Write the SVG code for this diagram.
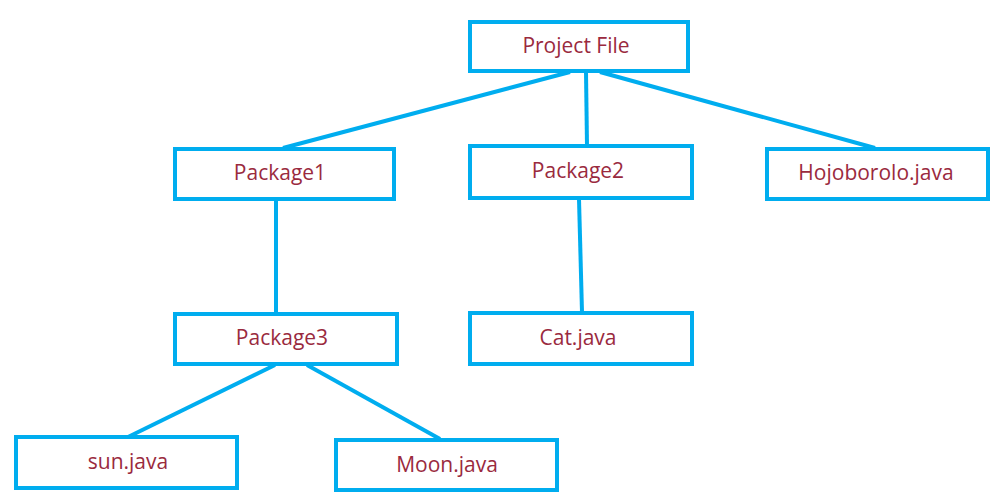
<svg xmlns="http://www.w3.org/2000/svg" width="1005" height="503" viewBox="0 0 1005 503">
<style>
.box{fill:#ffffff;stroke:#00adef;stroke-width:4}
.lbl{font-family:"Open Sans","Noto Sans",sans-serif;font-size:21px;fill:#9a2a3e;text-anchor:middle}
.con{stroke:#00adef;stroke-width:4;fill:none}
</style>
<rect width="1005" height="503" fill="#ffffff"/>
<g id="connectors">
<line class="con" x1="570" y1="72" x2="283" y2="148"/>
<line class="con" x1="586" y1="72" x2="587" y2="146"/>
<line class="con" x1="600" y1="72" x2="875" y2="148"/>
<line class="con" x1="276" y1="200" x2="276" y2="313"/>
<line class="con" x1="579" y1="199" x2="582" y2="312"/>
<line class="con" x1="275" y1="365" x2="128" y2="437"/>
<line class="con" x1="307" y1="365" x2="440" y2="439"/>
</g>
<g id="project-file"><rect class="box" x="470" y="22" width="218" height="49"/><text class="lbl" x="576" y="53">Project File</text></g>
<g id="package1"><rect class="box" x="175" y="149" width="219" height="50"/><text class="lbl" x="280" y="180">Package1</text></g>
<g id="package2"><rect class="box" x="470" y="146" width="222" height="52"/><text class="lbl" x="578" y="178">Package2</text></g>
<g id="hojoborolo"><rect class="box" x="767" y="149" width="221" height="50"/><text class="lbl" x="876" y="180">Hojoborolo.java</text></g>
<g id="package3"><rect class="box" x="175" y="314" width="222" height="50"/><text class="lbl" x="282" y="345">Package3</text></g>
<g id="cat"><rect class="box" x="470" y="313" width="222" height="51"/><text class="lbl" x="578" y="345">Cat.java</text></g>
<g id="sun"><rect class="box" x="16" y="437" width="221" height="51"/><text class="lbl" x="128" y="469">sun.java</text></g>
<g id="moon"><rect class="box" x="336" y="440" width="221" height="50"/><text class="lbl" x="447" y="472">Moon.java</text></g>
</svg>
